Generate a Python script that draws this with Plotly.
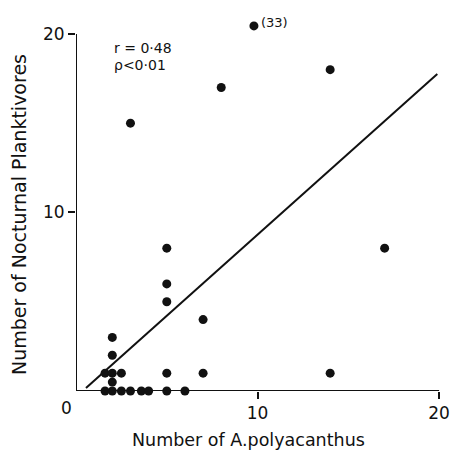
import plotly.graph_objects as go

# A. polyacanthus count (x) vs nocturnal planktivore count (y); small offsets as drawn in the figure
x_vals = [1.6, 2.0, 2.5, 3.0, 3.6, 4.0, 5.0, 6.0,
          2.0,
          1.6, 2.0, 2.5, 5.0, 7.0, 14.0,
          2.0, 2.0, 7.0, 5.0, 5.0, 5.0, 17.0,
          3.0, 8.0, 14.0, 9.8]
y_vals = [0, 0, 0, 0, 0, 0, 0, 0,
          0.5,
          1, 1, 1, 1, 1, 1,
          2, 3, 4, 5, 6, 8, 8,
          15, 17, 18, 20.45]
line_x = [0.55, 19.9]
line_y = [0.17, 17.75]
x_ticks = [10, 20]
y_ticks = [10, 20]
axis_max = 20

FONT = "DejaVu Sans"
INK = "#111"

W, H = 451, 450
L, R, T, B = 76, 1, 5, 59
pw, ph = W - L - R, H - T - B


def px_to_paper(px, py):
    return (px - L) / pw, (H - B - py) / ph


fig = go.Figure()
fig.add_trace(go.Scatter(x=line_x, y=line_y, mode="lines",
                         line=dict(color=INK, width=2), showlegend=False))
fig.add_trace(go.Scatter(x=x_vals, y=y_vals, mode="markers",
                         marker=dict(color=INK, size=9), showlegend=False,
                         cliponaxis=False))

axis_common = dict(showgrid=False, zeroline=False, showline=False,
                   ticks="outside", ticklen=7, tickwidth=2, tickcolor=INK,
                   tickfont=dict(size=17), automargin=False,
                   ticklabeloverflow="allow")

xt_x, xt_y = px_to_paper(248, 440)
yt_x, yt_y = px_to_paper(19, 215)

fig.update_layout(
    width=W, height=H,
    margin=dict(l=L, r=R, t=T, b=B, autoexpand=False),
    plot_bgcolor="white", paper_bgcolor="white",
    font=dict(family=FONT, color=INK, size=15),
    xaxis=dict(range=[0, 20.6], tickvals=x_ticks, **axis_common),
    yaxis=dict(range=[0, 21.62], tickvals=y_ticks, **axis_common),
    shapes=[
        dict(type="line", xref="x", yref="y", x0=0, x1=axis_max, y0=0, y1=0,
             line=dict(color=INK, width=2), layer="below"),
        dict(type="line", xref="x", yref="y", x0=0, x1=0, y0=0, y1=axis_max,
             line=dict(color=INK, width=2), layer="below"),
    ],
    annotations=[
        dict(x=0, y=0, xref="x", yref="y", text="0", showarrow=False,
             xshift=-10, yshift=-17, font=dict(size=17)),
        dict(x=1.97, y=19.2, xref="x", yref="y", text="r = 0·48", showarrow=False,
             xanchor="left", font=dict(size=14)),
        dict(x=1.97, y=18.25, xref="x", yref="y", text="ρ<0·01", showarrow=False,
             xanchor="left", font=dict(size=14)),
        dict(x=9.8, y=20.45, xref="x", yref="y", text="(33)", showarrow=False,
             xanchor="left", xshift=5, yshift=3, font=dict(size=13)),
        dict(x=xt_x, y=xt_y, xref="paper", yref="paper", text="Number of A.polyacanthus",
             showarrow=False, xanchor="center", yanchor="middle", font=dict(size=17.5)),
        dict(x=yt_x, y=yt_y, xref="paper", yref="paper", text="Number of Nocturnal Planktivores",
             showarrow=False, textangle=-90, xanchor="center", yanchor="middle",
             font=dict(size=19)),
    ],
)

fig.write_html(
    "out.html",
    config={"displayModeBar": False},
    post_script="document.body.style.margin='0';document.body.style.overflow='hidden';",
)
